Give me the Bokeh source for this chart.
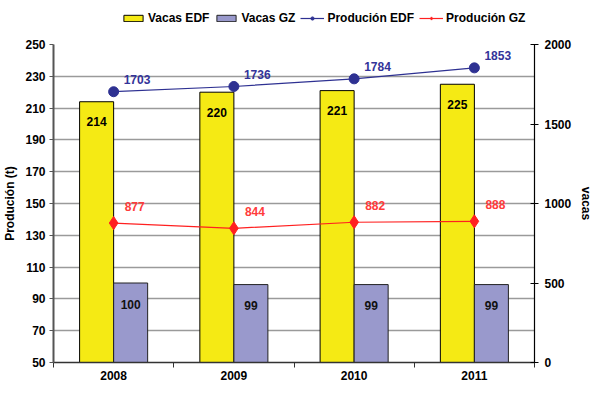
import numpy as np
from bokeh.plotting import figure
from bokeh.layouts import column
from bokeh.models import Range1d, LinearAxis, FixedTicker, Legend, LegendItem, ColumnDataSource
from bokeh.embed import file_html
from bokeh.resources import INLINE
from bokeh.core.properties import value

years = ["2008", "2009", "2010", "2011"]
vacas_edf = [214, 220, 221, 225]
vacas_gz = [100, 99, 99, 99]
prod_edf = [1703, 1736, 1784, 1853]
prod_gz = [877, 844, 882, 888]
left_ticks = list(range(50, 251, 20))
right_ticks = [0, 500, 1000, 1500, 2000]
series_names = ["Vacas EDF", "Vacas GZ", "Produción EDF", "Produción GZ"]

FONT = "Liberation Sans"
YELLOW = "#F5EA14"
PURPLE = "#9999CC"
NAVY = "#2E3192"
RED = "#FF2020"

xc = np.arange(len(years)) + 0.5
bw = 0.283

# ---------------- main chart ----------------
p = figure(width=596, height=354, output_backend="svg", toolbar_location=None,
           x_range=Range1d(0, len(years)), y_range=Range1d(50, 250),
           min_border_left=50, min_border_right=54, min_border_top=14, min_border_bottom=22)
p.outline_line_color = None
p.extra_y_ranges = {"right": Range1d(0, 2000)}

p.xgrid.visible = False
p.ygrid.grid_line_color = "#9a9a9a"
p.ygrid.grid_line_width = 1.5

ya = p.yaxis[0]
ya.ticker = FixedTicker(ticks=left_ticks, minor_ticks=[])
ya.axis_label = "Produción (t)"
ya.axis_label_text_font = FONT
ya.axis_label_text_font_style = "bold"
ya.axis_label_text_font_size = "12px"
ya.axis_label_text_color = "black"
ya.axis_label_standoff = 5
ya.major_label_text_font = FONT
ya.major_label_text_font_style = "bold"
ya.major_label_text_font_size = "12px"
ya.major_label_text_color = "black"
ya.axis_line_color = "#555555"
ya.axis_line_width = 2
ya.major_tick_in = 0
ya.major_tick_out = 4
ya.major_tick_line_color = "#555555"
ya.major_label_standoff = 4

xa = p.xaxis[0]
xa.ticker = FixedTicker(ticks=list(xc), minor_ticks=list(range(len(years) + 1)))
xa.major_label_overrides = {float(v): y for v, y in zip(xc, years)}
xa.major_tick_line_color = None
xa.major_tick_out = 5
xa.minor_tick_in = 0
xa.minor_tick_out = 5
xa.minor_tick_line_color = "#333333"
xa.axis_line_color = "#333333"
xa.axis_line_width = 1.5
xa.major_label_text_font = FONT
xa.major_label_text_font_style = "bold"
xa.major_label_text_font_size = "12px"
xa.major_label_text_color = "black"
xa.major_label_standoff = 3

ra = LinearAxis(y_range_name="right", ticker=FixedTicker(ticks=right_ticks, minor_ticks=[]))
ra.axis_label = "vacas"
ra.axis_label_text_font = FONT
ra.axis_label_text_font_style = "bold"
ra.axis_label_text_font_size = "12px"
ra.axis_label_text_color = "black"
ra.axis_label_standoff = 5
ra.axis_line_color = "black"
ra.axis_line_width = 1.2
ra.major_tick_in = 4
ra.major_tick_out = 4
ra.major_tick_line_color = "black"
ra.major_label_text_font = FONT
ra.major_label_text_font_style = "bold"
ra.major_label_text_font_size = "12px"
ra.major_label_text_color = "black"
ra.major_label_standoff = 6
p.add_layout(ra, "right")

p.vbar(x=xc - bw / 2, top=vacas_edf, bottom=50, width=bw,
       fill_color=YELLOW, line_color="black", line_width=1)
p.vbar(x=xc + bw / 2, top=vacas_gz, bottom=50, width=bw,
       fill_color=PURPLE, line_color="#222222", line_width=1)

p.text(x=xc - bw / 2, y=vacas_edf, text=[str(v) for v in vacas_edf],
       text_align="center", text_baseline="middle", y_offset=20,
       text_font=value(FONT), text_font_style="bold", text_font_size="12px", text_color="black")
p.text(x=xc + bw / 2, y=vacas_gz, text=[str(v) for v in vacas_gz],
       text_align="center", text_baseline="middle", y_offset=21,
       text_font=value(FONT), text_font_style="bold", text_font_size="12px", text_color="#111111")

p.line(xc, prod_edf, y_range_name="right", line_color=NAVY, line_width=1.2)
p.scatter(xc, prod_edf, y_range_name="right", marker="circle", size=10,
          fill_color=NAVY, line_color=NAVY)
p.line(xc, prod_gz, y_range_name="right", line_color=RED, line_width=1.2)
p.scatter(xc, prod_gz, y_range_name="right", marker="diamond", size=13,
          fill_color=RED, line_color=RED)

p.text(x=xc, y=prod_edf, text=[str(v) for v in prod_edf], y_range_name="right",
       text_align="left", text_baseline="middle", x_offset=10, y_offset=-12,
       text_font=value(FONT), text_font_style="bold", text_font_size="12px", text_color="#333399")
p.text(x=xc, y=prod_gz, text=[str(v) for v in prod_gz], y_range_name="right",
       text_align="left", text_baseline="middle", x_offset=11, y_offset=-17,
       text_font=value(FONT), text_font_style="bold", text_font_size="12px", text_color="#FF3B3B")

# ---------------- legend strip ----------------
lg = figure(width=596, height=30, output_backend="svg", toolbar_location=None,
            x_range=Range1d(0, 1), y_range=Range1d(0, 1),
            x_axis_type=None, y_axis_type=None,
            min_border_left=0, min_border_right=0, min_border_top=0, min_border_bottom=0)
lg.grid.visible = False
lg.outline_line_color = None
# proxy source lying outside the visible range: only used to draw legend swatches
proxy = ColumnDataSource(data=dict(x=[-10.0, -9.0], y=[-10.0, -9.0]))
g1 = lg.vbar(x="x", top="y", width=0.1, source=proxy, fill_color=YELLOW, line_color="black", line_width=1)
g2 = lg.vbar(x="x", top="y", width=0.1, source=proxy, fill_color=PURPLE, line_color="#222222", line_width=1)
g3a = lg.line(x="x", y="y", source=proxy, line_color=NAVY, line_width=1.2)
g3b = lg.scatter(x="x", y="y", source=proxy, marker="circle", size=8, fill_color=NAVY, line_color=NAVY)
g4a = lg.line(x="x", y="y", source=proxy, line_color=RED, line_width=1.2)
g4b = lg.scatter(x="x", y="y", source=proxy, marker="diamond", size=10, fill_color=RED, line_color=RED)

legend = Legend(items=[
    LegendItem(label=series_names[0], renderers=[g1]),
    LegendItem(label=series_names[1], renderers=[g2]),
    LegendItem(label=series_names[2], renderers=[g3a, g3b]),
    LegendItem(label=series_names[3], renderers=[g4a, g4b]),
], orientation="horizontal", location=(68, 5))
legend.label_text_font = FONT
legend.label_text_font_style = "bold"
legend.label_text_font_size = "12px"
legend.label_text_color = "black"
legend.label_height = 14
legend.glyph_height = 8
legend.glyph_width = 24
legend.label_standoff = 3
legend.spacing = 5
legend.padding = 0
legend.margin = 0
legend.border_line_color = None
legend.background_fill_alpha = 0
lg.add_layout(legend, "center")

layout = column(lg, p, spacing=0)
open("out.html", "w").write(file_html(layout, INLINE))
